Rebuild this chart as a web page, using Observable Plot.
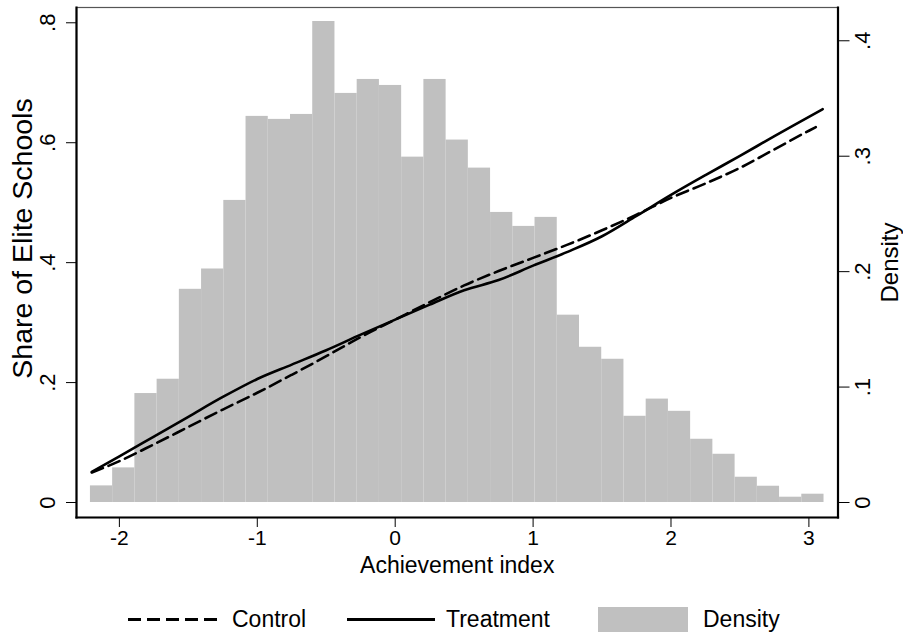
<!DOCTYPE html>
<html>
<head>
<meta charset="utf-8">
<script src="https://cdn.jsdelivr.net/npm/d3@7"></script>
<script src="https://cdn.jsdelivr.net/npm/@observablehq/plot@0.6"></script>
<style>
  body { margin: 0; background: #fff; font-family: "Liberation Sans", Arial, sans-serif; }
  #legend { position: relative; width: 903px; height: 44px; font-size: 23px; color: #000; }
  #legend .sw { position: absolute; top: 16.5px; }
  #legend .lab { position: absolute; top: 16px; line-height: 26px; white-space: nowrap; }
</style>
</head>
<body>
<div id="chart"></div>
<div id="legend"></div>
<script>
// histogram of the achievement index, read on the right (Density) axis
const binStart = -2.21;
const binWidth = 0.1612;
const density = [0.0144, 0.030, 0.0944, 0.1068, 0.1847, 0.2023, 0.2617, 0.3345, 0.3319, 0.3362,
  0.4167, 0.3544, 0.3665, 0.3613, 0.2992, 0.3665, 0.314, 0.2897, 0.2513, 0.2392,
  0.247, 0.1623, 0.1345, 0.1241, 0.0747, 0.0896, 0.079, 0.0548, 0.0418, 0.0219,
  0.0141, 0.0046, 0.0072];

// share of elite schools, left axis
const controlX = [-2.2, -2, -1.75, -1.5, -1.25, -1, -0.75, -0.5, -0.25, 0, 0.25, 0.5, 0.75, 1, 1.25, 1.5, 1.75, 2, 2.25, 2.5, 2.75, 3, 3.05];
const controlY = [0.05, 0.069, 0.097, 0.126, 0.155, 0.183, 0.213, 0.244, 0.276, 0.305, 0.334, 0.362, 0.386, 0.408, 0.43, 0.454, 0.48, 0.508, 0.532, 0.558, 0.589, 0.62, 0.626];
const treatX = [-2.2, -2, -1.75, -1.5, -1.25, -1, -0.75, -0.5, -0.25, 0, 0.25, 0.5, 0.75, 1, 1.25, 1.5, 1.75, 2, 2.25, 2.5, 2.75, 3, 3.1];
const treatY = [0.051, 0.077, 0.11, 0.143, 0.176, 0.206, 0.23, 0.254, 0.28, 0.305, 0.33, 0.354, 0.371, 0.395, 0.418, 0.444, 0.478, 0.513, 0.546, 0.578, 0.611, 0.643, 0.656];

const xTicks = [-2, -1, 0, 1, 2, 3];
const leftTicks = [0, 0.2, 0.4, 0.6, 0.8];
const rightTicks = [0, 0.1, 0.2, 0.3, 0.4];

// one density unit on the right axis = k share units on the left axis
const k = 1.925;

const fmt = d => d === 0 ? "0" : d3.format(".1f")(d).replace(/^0/, "");

const bars = density.map((d, i) => ({
  x1: binStart + i * binWidth,
  x2: binStart + (i + 1) * binWidth,
  y1: 0,
  y2: d * k
}));
const control = controlX.map((x, i) => ({x, y: controlY[i]}));
const treatment = treatX.map((x, i) => ({x, y: treatY[i]}));

const chart = Plot.plot({
  width: 903,
  height: 590,
  marginLeft: 76,
  marginRight: 65.5,
  marginTop: 7,
  marginBottom: 73,
  x: {domain: [-2.311, 3.211]},
  y: {domain: [-0.025, 0.8255]},
  style: {fontFamily: "'Liberation Sans', Arial, sans-serif", fontSize: "22px", color: "#000", background: "#fff"},
  marks: [
    Plot.rect(bars, {x1: "x1", x2: "x2", y1: "y1", y2: "y2", fill: "#c0c0c0"}),
    Plot.line(control, {x: "x", y: "y", stroke: "#000", strokeWidth: 2.6, strokeDasharray: "12,6", curve: "monotone-x"}),
    Plot.line(treatment, {x: "x", y: "y", stroke: "#000", strokeWidth: 2.6, curve: "monotone-x"}),
    Plot.frame({stroke: "#555", strokeWidth: 1.2}),
    Plot.frame({anchor: "left", stroke: "#000", strokeWidth: 2.2}),
    Plot.frame({anchor: "bottom", stroke: "#000", strokeWidth: 2.2}),
    Plot.frame({anchor: "right", stroke: "#000", strokeWidth: 2.2}),
    Plot.axisX({ticks: xTicks, tickFormat: d => String(d), tickSize: 10, tickPadding: 3, label: null, fontSize: 21}),
    Plot.axisY({anchor: "left", ticks: leftTicks, tickSize: 10, tickFormat: () => "", label: null}),
    Plot.text(leftTicks, {y: d => d, frameAnchor: "left", textAnchor: "middle", dx: -29, rotate: -90, text: fmt, fontSize: 22}),
    Plot.axisY({anchor: "right", ticks: rightTicks.map(d => d * k), tickSize: 11, tickFormat: () => "", label: null}),
    Plot.text(rightTicks, {y: d => d * k, frameAnchor: "right", textAnchor: "middle", dx: 25, rotate: -90, text: fmt, fontSize: 22}),
    Plot.text(["Achievement index"], {frameAnchor: "bottom", dy: 55, fontSize: 23}),
    Plot.text(["Share of Elite Schools"], {frameAnchor: "left", textAnchor: "middle", dx: -54, dy: -24, rotate: -90, fontSize: 28.5}),
    Plot.text(["Density"], {frameAnchor: "right", textAnchor: "middle", dx: 52.5, rotate: -90, fontSize: 24})
  ]
});

d3.select("#chart").append(() => chart);

// legend below the plot
const legend = d3.select("#legend");
const items = [
  {label: "Control", kind: "dash", sx: 128, sw: 89, tx: 232},
  {label: "Treatment", kind: "solid", sx: 347, sw: 88, tx: 446},
  {label: "Density", kind: "box", sx: 598, sw: 90, tx: 703}
];
items.forEach(it => {
  const svg = legend.append("svg").attr("class", "sw")
    .style("left", it.sx + "px").attr("width", it.sw).attr("height", 25);
  if (it.kind === "box") {
    svg.append("rect").attr("width", it.sw).attr("height", 25).attr("fill", "#c0c0c0");
  } else {
    svg.append("line").attr("x1", 0).attr("x2", it.sw).attr("y1", 12.5).attr("y2", 12.5)
      .attr("stroke", "#000").attr("stroke-width", 3)
      .attr("stroke-dasharray", it.kind === "dash" ? "13,6" : null);
  }
  legend.append("div").attr("class", "lab").style("left", it.tx + "px").text(it.label);
});
</script>
</body>
</html>
